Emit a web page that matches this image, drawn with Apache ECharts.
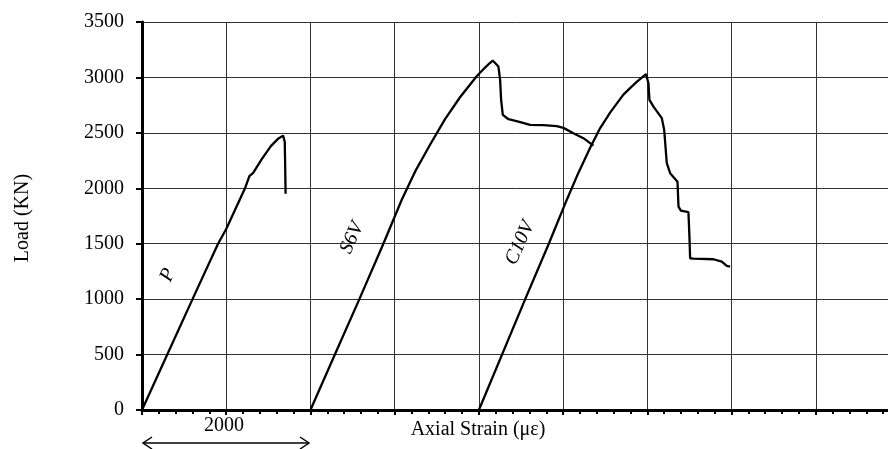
<!DOCTYPE html>
<html>
<head>
<meta charset="utf-8">
<script src="https://cdn.jsdelivr.net/npm/echarts@6/dist/echarts.min.js"></script>
<style>
  html, body { margin: 0; padding: 0; background: #fff; }
  #main { width: 888px; height: 449px; }
</style>
</head>
<body>
<div id="main"></div>
<script>
var yTicks = [0, 500, 1000, 1500, 2000, 2500, 3000, 3500];

var pStrain = [0, 300, 600, 903, 1000, 1223, 1275, 1320, 1420, 1530, 1620, 1675, 1695, 1700, 1705];
var pLoad = [0, 500, 1000, 1500, 1633, 2000, 2110, 2140, 2260, 2380, 2450, 2475, 2420, 2200, 1950];

var s6vStrain = [2000, 2290, 2581, 2866, 3084, 3242, 3420, 3598, 3776, 3974, 4073, 4130, 4164,
	4232, 4252, 4264, 4284, 4351, 4469, 4608, 4766, 4925, 5004, 5122, 5241, 5360];
var s6vLoad = [0, 500, 1000, 1500, 1897, 2150, 2393, 2624, 2821, 3011, 3089, 3130, 3152,
	3098, 2978, 2798, 2662, 2623, 2602, 2572, 2570, 2560, 2545, 2497, 2452, 2385];

var c10vStrain = [4000, 4550, 4830, 5043, 5177, 5321, 5440, 5558, 5641, 5716, 5795, 5877, 5949, 5985,
	6013, 6025, 6073, 6172, 6200, 6231, 6271, 6358, 6370, 6398, 6488, 6500, 6508, 6548, 6785, 6884, 6943, 6983];
var c10vLoad = [0, 1000, 1500, 1895, 2132, 2366, 2543, 2683, 2768, 2845, 2904, 2962, 3008, 3030,
	2948, 2798, 2737, 2633, 2527, 2226, 2136, 2060, 1835, 1799, 1784, 1564, 1369, 1365, 1360, 1338, 1300, 1293];

function pairs(xs, ys) {
	var out = [];
	for (var i = 0; i < xs.length; i++) {
		out.push([xs[i], ys[i]]);
	}
	return out;
}

var myChart = echarts.init(document.getElementById('main'));
var serif = 'Liberation Serif, Times New Roman, serif';
var lineStyle = { color: '#000', width: 2.3 };

var option = {
	animation: false,
	backgroundColor: '#fff',
	// axis runs past the right edge of the picture
	grid: { left: 142, top: 22, right: -12, bottom: 39, outerBoundsMode: 'none' },
	xAxis: {
		type: 'value',
		min: 0,
		max: 9000,
		interval: 1000,
		axisLine: { show: true, onZero: false, lineStyle: { color: '#000', width: 3 } },
		axisTick: { show: true, length: 5, lineStyle: { color: '#000', width: 2 } },
		minorTick: { show: true, splitNumber: 5, length: 4, lineStyle: { color: '#000', width: 2 } },
		axisLabel: { show: false },
		splitLine: { show: true, lineStyle: { color: '#333', width: 1 } }
	},
	yAxis: {
		type: 'value',
		min: 0,
		max: 3500,
		interval: 500,
		axisLine: { show: true, lineStyle: { color: '#000', width: 3 } },
		axisTick: { show: true, length: 6, lineStyle: { color: '#000', width: 2 } },
		axisLabel: {
			margin: 18,
			color: '#000',
			fontFamily: serif,
			fontSize: 20,
			formatter: function(v) { return yTicks.indexOf(v) >= 0 ? String(v) : ''; }
		},
		splitLine: { show: true, lineStyle: { color: '#333', width: 1 } }
	},
	series: [
		{ name: 'P', type: 'line', data: pairs(pStrain, pLoad), showSymbol: false, lineStyle: lineStyle },
		{ name: 'S6V', type: 'line', data: pairs(s6vStrain, s6vLoad), showSymbol: false, lineStyle: lineStyle },
		{ name: 'C10V', type: 'line', data: pairs(c10vStrain, c10vLoad), showSymbol: false, lineStyle: lineStyle }
	]
};
myChart.setOption(option);

// curve labels placed in data coordinates
var curveLabels = [
	{ text: 'P', at: [309, 1218] },
	{ text: 'S6V', at: [2494, 1552] },
	{ text: 'C10V', at: [4489, 1507] }
];
var textStyleBase = { fill: '#000', fontFamily: serif, fontSize: 20, align: 'center', verticalAlign: 'middle' };
var graphics = curveLabels.map(function(l) {
	var p = myChart.convertToPixel({ gridIndex: 0 }, l.at);
	return {
		type: 'text', x: p[0], y: p[1], rotation: 66 * Math.PI / 180,
		style: Object.assign({ text: l.text, fontStyle: 'italic' }, textStyleBase)
	};
});

graphics.push(
	{ type: 'text', x: 23, y: 218, rotation: Math.PI / 2, style: Object.assign({ text: 'Load (KN)' }, textStyleBase) },
	{ type: 'text', x: 478, y: 430, style: Object.assign({ text: 'Axial Strain (με)' }, textStyleBase) },
	{ type: 'text', x: 224, y: 426, style: Object.assign({ text: '2000' }, textStyleBase) },
	{ type: 'line', shape: { x1: 143, y1: 443, x2: 309, y2: 443 }, style: { stroke: '#000', lineWidth: 1.5 } },
	{ type: 'polyline', shape: { points: [[152, 437], [143, 443], [152, 449]] }, style: { stroke: '#000', lineWidth: 1.5, fill: null } },
	{ type: 'polyline', shape: { points: [[300, 437], [309, 443], [300, 449]] }, style: { stroke: '#000', lineWidth: 1.5, fill: null } }
);

myChart.setOption({ graphic: graphics });
</script>
</body>
</html>
